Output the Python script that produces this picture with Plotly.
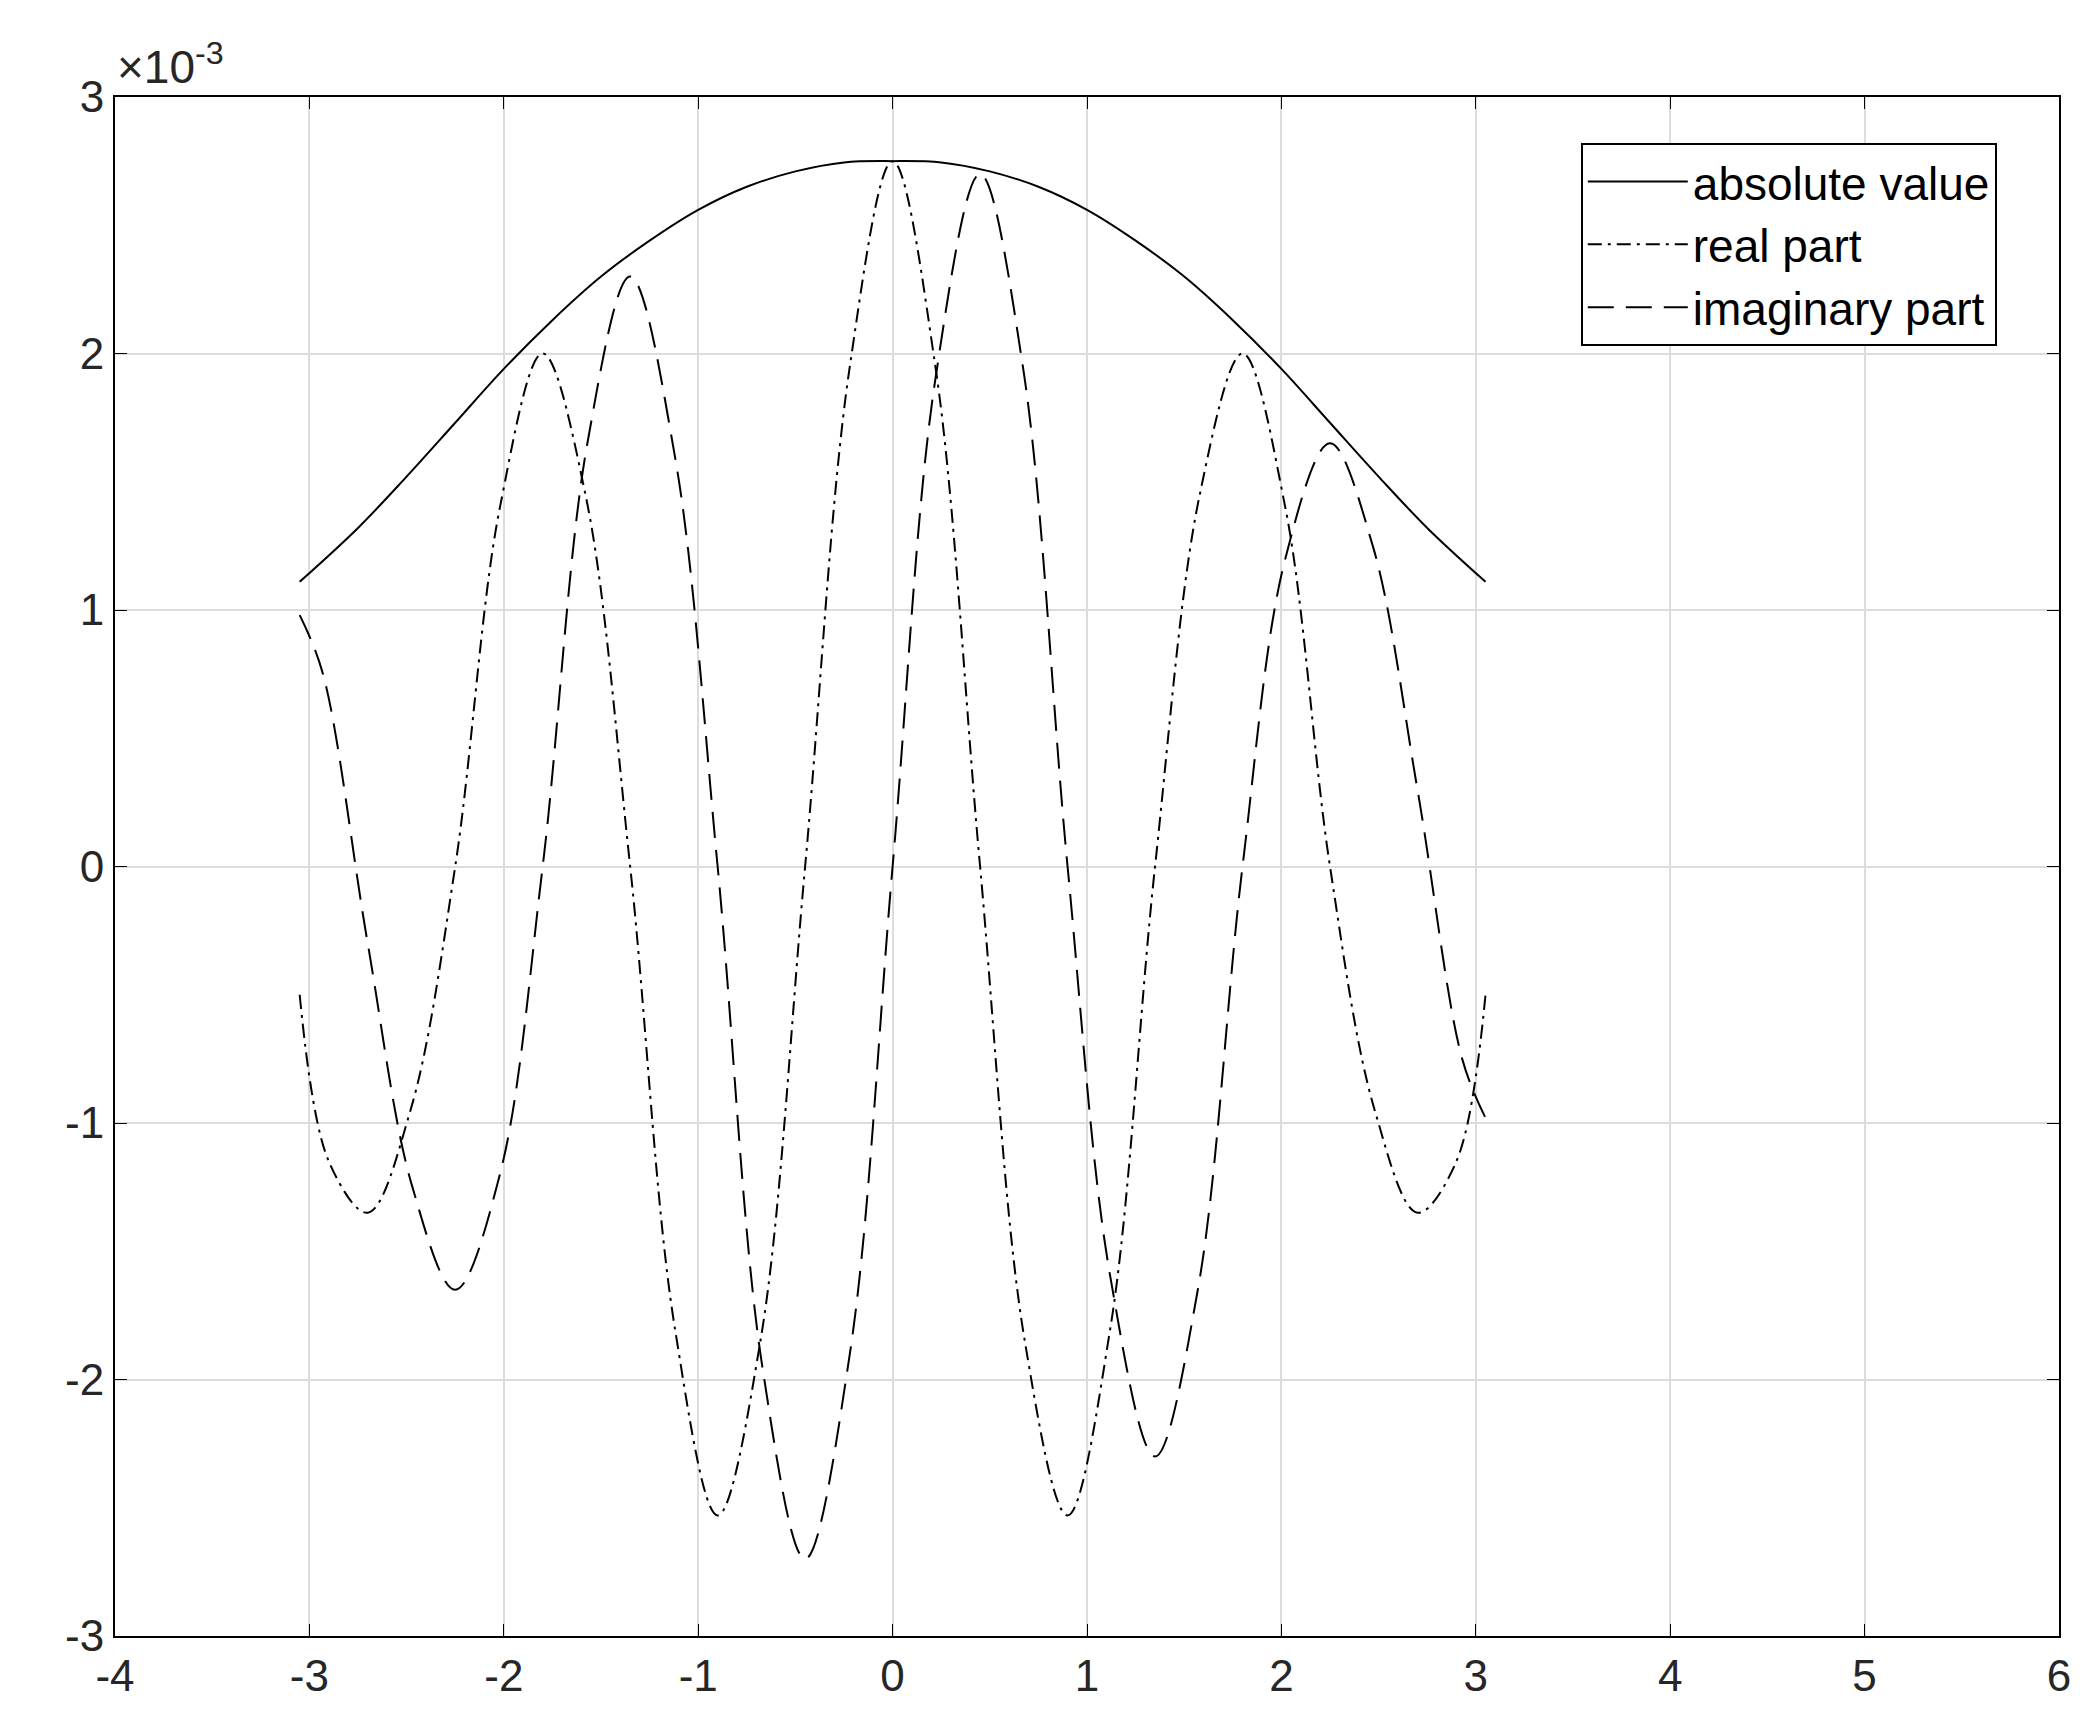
import plotly.graph_objects as go

# values in units of 1e-3
abs_x = [-3.05, -2.75, -2.5, -2.25, -2.0, -1.75, -1.5, -1.25, -1.0, -0.75, -0.5, -0.25, 0.0,
         0.25, 0.5, 0.75, 1.0, 1.25, 1.5, 1.75, 2.0, 2.25, 2.5, 2.75, 3.05]
abs_y = [1.11, 1.32, 1.52, 1.73, 1.94, 2.13, 2.3, 2.44, 2.56, 2.65, 2.71, 2.745, 2.75,
         2.745, 2.71, 2.65, 2.56, 2.44, 2.3, 2.13, 1.94, 1.73, 1.52, 1.32, 1.11]

re_x = [-3.05, -2.9, -2.7, -2.48, -2.25, -2.02, -1.8, -1.58, -1.35, -1.12, -0.9, -0.68, -0.45, -0.22, 0.0,
        0.22, 0.45, 0.68, 0.9, 1.12, 1.35, 1.58, 1.8, 2.02, 2.25, 2.48, 2.7, 2.9, 3.05]
re_y = [-0.5, -1.15, -1.35, -0.95, 0.0, 1.4, 2.0, 1.45, 0.0, -1.8, -2.53, -1.85, 0.0, 1.95, 2.75,
        1.95, 0.0, -1.85, -2.53, -1.8, 0.0, 1.45, 2.0, 1.4, 0.0, -0.95, -1.35, -1.15, -0.5]

im_x = [-3.05, -2.93, -2.7, -2.47, -2.25, -2.02, -1.8, -1.57, -1.35, -1.12, -0.9, -0.67, -0.45, -0.22, 0.0,
        0.22, 0.45, 0.67, 0.9, 1.12, 1.35, 1.57, 1.8, 2.02, 2.25, 2.47, 2.7, 2.93, 3.05]
im_y = [0.98, 0.75, -0.3, -1.25, -1.65, -1.2, 0.0, 1.65, 2.3, 1.6, 0.0, -1.95, -2.7, -1.9, 0.0,
        1.9, 2.7, 1.95, 0.0, -1.6, -2.3, -1.65, 0.0, 1.2, 1.65, 1.25, 0.3, -0.75, -0.98]

x_ticks = [-4, -3, -2, -1, 0, 1, 2, 3, 4, 5, 6]
y_ticks = [-3, -2, -1, 0, 1, 2, 3]

fig = go.Figure()
fig.add_trace(go.Scatter(x=abs_x, y=abs_y, mode="lines", name="absolute value",
                         line=dict(color="black", width=2, shape="spline")))
fig.add_trace(go.Scatter(x=re_x, y=re_y, mode="lines", name="real part",
                         line=dict(color="black", width=2, shape="spline", dash="14px,6px,3px,6px")))
fig.add_trace(go.Scatter(x=im_x, y=im_y, mode="lines", name="imaginary part",
                         line=dict(color="black", width=2, shape="spline", dash="26px,12px")))

ax = dict(showline=True, linecolor="black", linewidth=2, mirror="ticks", ticks="inside",
          ticklen=12, tickcolor="black", showgrid=True, gridcolor="#dcdcdc", gridwidth=2,
          zeroline=False, tickfont=dict(size=44, color="#262626"))
fig.update_xaxes(range=[-4, 6], tickvals=x_ticks, ticktext=[str(v) for v in x_ticks], **ax)
fig.update_yaxes(range=[-3, 3], tickvals=y_ticks, ticktext=[str(v) for v in y_ticks], **ax)

fig.add_annotation(x=0, y=1, xref="paper", yref="paper", xanchor="left", yanchor="bottom",
                   text="×10<sup>-3</sup>", showarrow=False, font=dict(size=46, color="#262626"), yshift=2)

fig.update_layout(width=2088, height=1734, plot_bgcolor="white", paper_bgcolor="white",
                  margin=dict(l=107, r=37, t=89, b=106),
                  font=dict(family="Liberation Sans, Arial, sans-serif", color="#262626"),
                  legend=dict(x=0.968, y=0.97, xanchor="right", yanchor="top", bgcolor="white",
                              bordercolor="black", borderwidth=2, font=dict(size=46, color="black"),
                              itemwidth=100, tracegroupgap=0))
fig.write_html("out.html")
